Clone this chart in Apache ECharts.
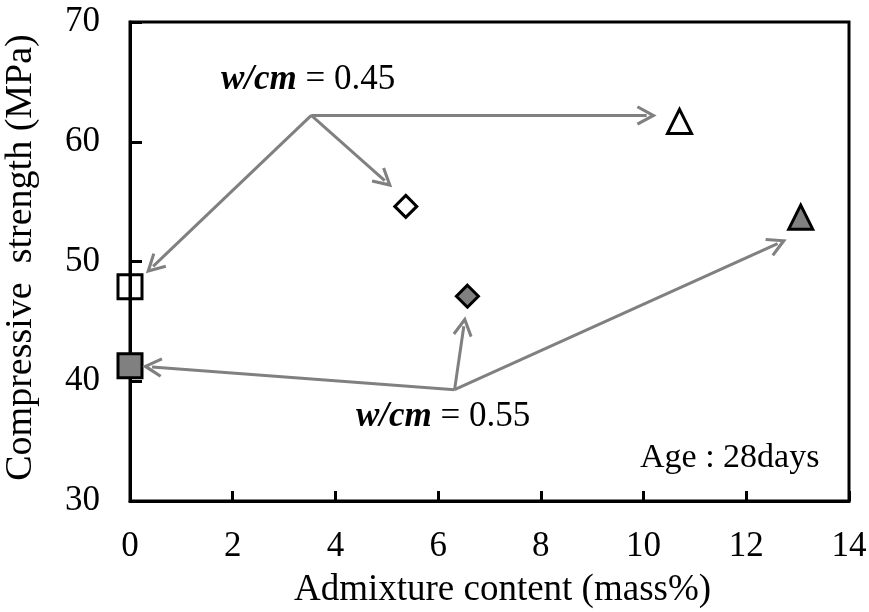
<!DOCTYPE html>
<html>
<head>
<meta charset="utf-8">
<script src="https://cdn.jsdelivr.net/npm/echarts@6/dist/echarts.min.js"></script>
<style>
    html, body { margin: 0; padding: 0; background: #fff; }
    #chart { width: 869px; height: 612px; }
</style>
</head>
<body>
<div id="chart"></div>
<script>
// w/cm = 0.45 (open markers) and w/cm = 0.55 (grey markers)
const admixture45 = [0, 5.37, 10.7];
const strength45 = [47.9, 54.6, 61.7];
const admixture55 = [0, 6.57, 13.06];
const strength55 = [41.3, 47.1, 53.7];
const shapes = ['rect', 'diamond', 'triangle'];
const sizes = [24, 22, 24];

// annotation arrows: start hub -> end of each arrow
const hub45 = [3.53, 62.2];
const tips45 = [[0.45, 49.6], [4.96, 56.76], [10.06, 62.2]];
const hub55 = [6.32, 39.3];
const tips55 = [[0.43, 41.2], [6.5, 44.6], [12.61, 51.5]];

const xTicks = [0, 14, 2];
const yTicks = [30, 70, 10];

const font = 'Liberation Serif';
const grey = '#808080';
const chevron = 'path://M10,0 L20,18 L17.4,19.5 L10,6.4 L2.6,19.5 L0,18 Z';

function points(xs, ys, fill) {
    return xs.map((x, i) => ({
        value: [x, ys[i]],
        symbol: shapes[i],
        symbolSize: sizes[i],
        itemStyle: { color: fill, borderColor: '#000', borderWidth: 3, opacity: 1 }
    }));
}

function arrows(hub, tips) {
    return tips.map(t => [{ coord: hub }, { coord: t }]);
}

function wcm(value) {
    return {
        text: '{b|w/cm} = ' + value,
        fontFamily: font, fontSize: 35, fill: '#000',
        rich: { b: { fontFamily: font, fontSize: 35, fontWeight: 'bold', fontStyle: 'italic' } }
    };
}

const chart = echarts.init(document.getElementById('chart'));
chart.setOption({
    animation: false,
    textStyle: { fontFamily: font },
    grid: {
        left: 130, right: 20, top: 22, bottom: 111,
        outerBoundsMode: 'none', containLabel: false,
        show: true, borderColor: '#000', borderWidth: 3
    },
    xAxis: {
        type: 'value',
        min: xTicks[0], max: xTicks[1], interval: xTicks[2],
        name: 'Admixture content (mass%)',
        nameLocation: 'middle',
        nameGap: 71,
        nameTextStyle: { fontFamily: font, fontSize: 37, color: '#000', padding: [0, 0, 0, 26] },
        axisLine: { lineStyle: { color: '#000', width: 3 } },
        axisTick: { inside: true, length: 10, lineStyle: { color: '#000', width: 3 } },
        axisLabel: { fontFamily: font, fontSize: 35, color: '#000', margin: 28 },
        splitLine: { show: false }
    },
    yAxis: {
        type: 'value',
        min: yTicks[0], max: yTicks[1], interval: yTicks[2],
        name: 'Compressive  strength (MPa)',
        nameLocation: 'middle',
        nameGap: 90,
        nameTextStyle: { fontFamily: font, fontSize: 38, color: '#000', padding: [0, 0, 0, 8] },
        axisLine: { show: true, lineStyle: { color: '#000', width: 3 } },
        axisTick: { show: true, inside: true, length: 12, lineStyle: { color: '#000', width: 3 } },
        axisLabel: { fontFamily: font, fontSize: 35, color: '#000', margin: 30 },
        splitLine: { show: false }
    },
    series: [
        {
            type: 'scatter',
            name: 'w/cm 0.45',
            z: 3,
            data: points(admixture45, strength45, 'rgba(255,255,255,0)'),
            markLine: {
                silent: true,
                symbol: ['none', chevron],
                symbolSize: [20, 20],
                label: { show: false },
                lineStyle: { color: grey, width: 3, type: 'solid', opacity: 1 },
                data: arrows(hub45, tips45)
            }
        },
        {
            type: 'scatter',
            name: 'w/cm 0.55',
            z: 3,
            data: points(admixture55, strength55, grey),
            markLine: {
                silent: true,
                symbol: ['none', chevron],
                symbolSize: [20, 20],
                label: { show: false },
                lineStyle: { color: grey, width: 3, type: 'solid', opacity: 1 },
                data: arrows(hub55, tips55)
            }
        }
    ],
    graphic: [
        { type: 'text', left: 221, top: 62, style: wcm('0.45') },
        { type: 'text', left: 356, top: 399, style: wcm('0.55') },
        {
            type: 'text', left: 640, top: 441,
            style: { text: 'Age : 28days', fontFamily: font, fontSize: 34, fill: '#000' }
        }
    ]
});
</script>
</body>
</html>
